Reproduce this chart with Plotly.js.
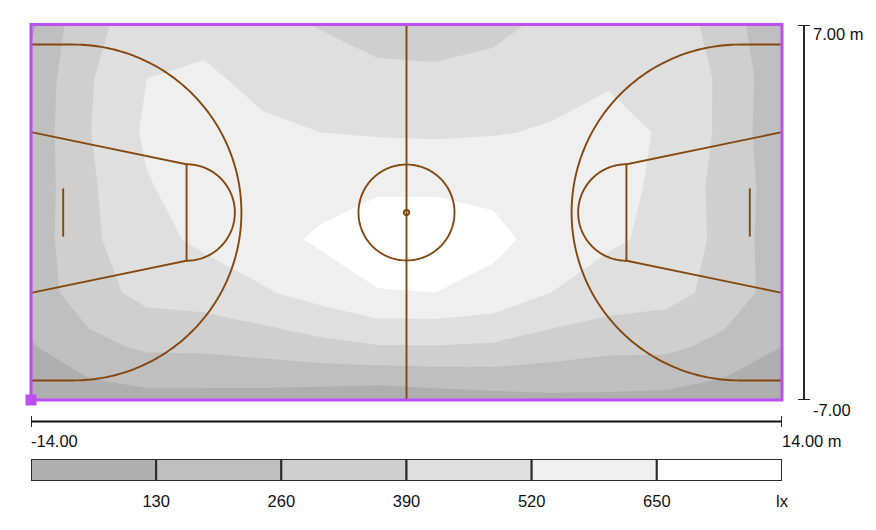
<!DOCTYPE html>
<html>
<head>
<meta charset="utf-8">
<script src="https://cdn.plot.ly/plotly-3.0.1.min.js"></script>
<style>html,body{margin:0;padding:0;background:#fff}#c{width:876px;height:530px}</style>
</head>
<body>
<div id="c"></div>
<script>
// Grid of the illuminance map (metres)
const xGrid = [-14, -11.85, -9.69, -7.54, -5.38, -3.23, -1.08, 1.08, 3.23, 5.38, 7.54, 9.69, 11.85, 14];
const yGrid = [-7, -5, -3, -1, 1, 3, 5, 7];
// Illuminance (lx), one row per yGrid value
const rowYm7 = [50, 66, 87, 86, 78, 57, 33, 59, 81, 101, 102, 94, 66, 60];
const rowYm5 = [120, 222, 282, 286, 312, 352, 383, 384, 373, 326, 292, 289, 222, 130];
const rowYm3 = [185, 335, 430, 450, 505, 570, 645, 650, 613, 520, 465, 434, 345, 189];
const rowYm1 = [188, 363, 480, 545, 602, 670, 700, 720, 680, 608, 537, 492, 347, 182];
const rowYp1 = [179, 367, 511, 580, 600, 597, 637, 632, 625, 590, 565, 490, 342, 194];
const rowYp3 = [174, 383, 540, 570, 560, 520, 508, 503, 512, 530, 590, 496, 362, 153];
const rowYp5 = [166, 376, 520, 557, 460, 450, 440, 430, 460, 480, 499, 470, 369, 160];
const rowYp7 = [108, 367, 430, 450, 430, 384, 310, 300, 338, 435, 440, 450, 345, 120];

// Legend
const levels = [0, 130, 260, 390, 520, 650];
const levelColors = ['#afafaf', '#bfbfbf', '#cfcfcf', '#dfdfdf', '#efefef', '#ffffff'];
const legendTicks = [130, 260, 390, 520, 650, 780];
const legendLabels = ['130', '260', '390', '520', '650', 'lx'];

// Court geometry (metres)
const halfLen = 14, halfWid = 7;
const hoopX = 12.425, threeR = 6.27;
const ftX = 8.2, ftR = 1.8, keyBase = 3;
const boardX = 12.8, boardHalf = 0.9;
const centerR = 1.79, dotR = 0.1;

const W = 876, H = 530;
const brown = '#84480f', purple = '#bb4ff2', ink = '#111111';
const FONT = 'Liberation Sans, Arial, sans-serif';

function arc(cx, cy, r, a0, a1) {
  const xs = [], ys = [], n = 180;
  for (let i = 0; i <= n; i++) {
    const a = (a0 + (a1 - a0) * i / n) * Math.PI / 180;
    xs.push(cx + r * Math.cos(a)); ys.push(cy + r * Math.sin(a));
  }
  return {x: xs, y: ys};
}
function line(p, w) {
  return {type: 'scatter', mode: 'lines', x: p.x, y: p.y, hoverinfo: 'skip',
          line: {color: brown, width: w || 1.9, simplify: false}, showlegend: false};
}
function mirror(p) { return {x: p.x.map(v => -v), y: p.y}; }

const traces = [];
const colorscale = [];
levelColors.forEach((c, i) => { colorscale.push([i / 6, c]); colorscale.push([(i + 1) / 6, c]); });
traces.push({
  type: 'contour', x: xGrid, y: yGrid,
  z: [rowYm7, rowYm5, rowYm3, rowYm1, rowYp1, rowYp3, rowYp5, rowYp7],
  autocontour: false, zmin: 0, zmax: 780,
  contours: {start: 130, end: 650, size: 130, coloring: 'fill', showlines: false},
  line: {width: 0, smoothing: 0}, colorscale: colorscale, showscale: false, hoverinfo: 'skip'
});

// One half of the court, then its mirror image
function threeLine() {
  const a = arc(-hoopX, 0, threeR, -90, 90);
  return {x: [-halfLen].concat(a.x, [-halfLen]), y: [-threeR].concat(a.y, [threeR])};
}
function keyLines() {
  return {x: [-halfLen, -ftX, -ftX, -halfLen], y: [keyBase, ftR, -ftR, -keyBase]};
}
function ftArc() { return arc(-ftX, 0, ftR, -90, 90); }
function board() { return {x: [-boardX, -boardX], y: [-boardHalf, boardHalf]}; }
[threeLine(), keyLines(), ftArc(), board()].forEach(p => {
  traces.push(line(p)); traces.push(line(mirror(p)));
});
traces.push(line({x: [0, 0], y: [-halfWid, halfWid]}));
traces.push(line(arc(0, 0, centerR, 0, 360)));
traces.push(line(arc(0, 0, dotR, 0, 360), 2));

// Origin marker
traces.push({type: 'scatter', mode: 'markers', x: [-halfLen], y: [-halfWid], cliponaxis: false,
  marker: {symbol: 'square', size: 11, color: purple}, hoverinfo: 'skip', showlegend: false});

// Legend bar
traces.push({
  type: 'bar', orientation: 'h', xaxis: 'x2', yaxis: 'y2',
  y: levels.map(() => 0), x: levels.map(() => 130), base: levels, width: 1,
  marker: {color: levelColors, line: {color: '#2b2b2b', width: 2}},
  hoverinfo: 'skip', showlegend: false
});

const dom = (a, b) => [a / W, b / W];
const domY = (top, bot) => [1 - bot / H, 1 - top / H];
const xRulePaper = 1 - 421.5 / H;
const rule = {color: ink, width: 1.8};
const shapes = [
  {type: 'rect', xref: 'paper', yref: 'paper', x0: 31 / W, x1: 782 / W, y0: 1 - 400 / H, y1: 1 - 24.5 / H,
   line: {color: purple, width: 3}, layer: 'above'},
  {type: 'line', xref: 'x', yref: 'paper', x0: -halfLen, x1: halfLen, y0: xRulePaper, y1: xRulePaper, line: rule},
  {type: 'line', xref: 'x', yref: 'paper', x0: -halfLen, x1: -halfLen, y0: 1 - 416 / H, y1: 1 - 427 / H, line: rule},
  {type: 'line', xref: 'x', yref: 'paper', x0: halfLen, x1: halfLen, y0: 1 - 416 / H, y1: 1 - 427 / H, line: rule},
  {type: 'line', xref: 'paper', yref: 'y', x0: 804 / W, x1: 804 / W, y0: -halfWid, y1: halfWid, line: rule},
  {type: 'line', xref: 'paper', yref: 'y', x0: 798 / W, x1: 810 / W, y0: halfWid, y1: halfWid, line: rule},
  {type: 'line', xref: 'paper', yref: 'y', x0: 798 / W, x1: 810 / W, y0: -halfWid, y1: -halfWid, line: rule}
];
function label(text, xpx, ypx) {
  return {text: text, xref: 'paper', yref: 'paper', x: xpx / W, y: 1 - ypx / H, xanchor: 'left', yanchor: 'middle',
          showarrow: false, font: {family: FONT, size: 16.5, color: ink}};
}
const annotations = [
  label('-14.00', 29, 441), label('14.00 m', 780, 441),
  label('7.00 m', 811, 34), label('-7.00', 811, 410)
];

const layout = {
  width: W, height: H, margin: {l: 0, r: 0, t: 0, b: 0}, paper_bgcolor: '#fff', plot_bgcolor: '#fff',
  showlegend: false, barmode: 'overlay', bargap: 0,
  xaxis: {domain: dom(31, 782), range: [-halfLen, halfLen], visible: false, anchor: 'y'},
  yaxis: {domain: domY(25, 400), range: [-halfWid, halfWid], visible: false, anchor: 'x'},
  xaxis2: {domain: dom(31, 782), range: [0, 780], anchor: 'y2', showgrid: false, zeroline: false, showline: false,
    tickmode: 'array', tickvals: legendTicks, ticktext: legendLabels, ticks: 'outside', ticklen: 5, tickcolor: 'rgba(0,0,0,0)',
    tickfont: {family: FONT, size: 16.5, color: ink}},
  yaxis2: {domain: domY(459, 481), range: [-0.5, 0.5], anchor: 'x2', visible: false},
  shapes: shapes, annotations: annotations
};
Plotly.newPlot('c', traces, layout, {staticPlot: true, displayModeBar: false});
</script>
</body>
</html>
